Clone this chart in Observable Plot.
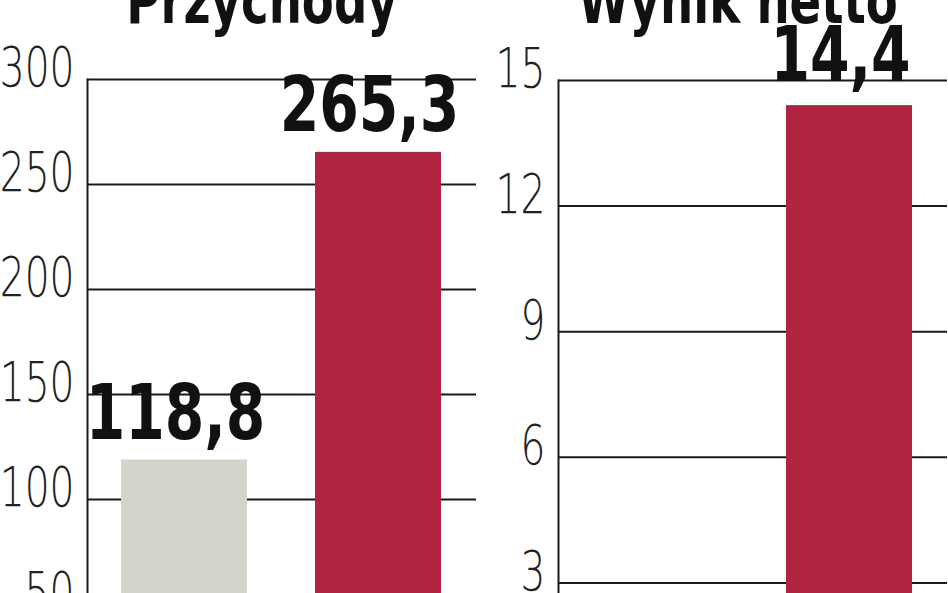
<!DOCTYPE html>
<html><head><meta charset="utf-8">
<script src="https://cdn.jsdelivr.net/npm/d3@7"></script>
<script src="https://cdn.jsdelivr.net/npm/@observablehq/plot@0.6"></script>
<style>
html,body{margin:0;padding:0;background:#fff;overflow:hidden;width:948px;height:593px;}
#wrap{position:relative;width:948px;height:593px;overflow:hidden;}
.panel{position:absolute;top:0;}
.title{position:absolute;font-family:"Liberation Sans Narrow","DejaVu Sans Condensed",sans-serif;font-weight:bold;font-size:64px;line-height:1;color:#111;white-space:nowrap;transform:translateX(-50%) scaleX(0.81);}
</style></head>
<body>
<div id="wrap"></div>
<script>
const categories = ["okres poprzedni", "okres bieżący"];
const colors = ["#d4d4cc", "#b02442"];
const titleRevenue = "Przychody";
const titleNet = "Wynik netto";
const revenue = [118.8, 265.3];
const netResult = [null, 14.4];
const revenueTicks = [0, 50, 100, 150, 200, 250, 300];
const netTicks = [0, 3, 6, 9, 12, 15];

const narrow = '"Liberation Sans Narrow","DejaVu Sans Condensed",sans-serif';
const thin = '"DejaVu Sans",sans-serif';
const fmt = v => d3.format(".1f")(v).replace(".", ",");

function panel(values, ticks, domainMax, marginTop, marginBottom, labelDy) {
  const data = categories.map((c, i) => ({cat: c, value: values[i], color: colors[i]})).filter(d => d.value != null);
  return Plot.plot({
    width: 480,
    height: 740,
    marginLeft: 88,
    marginRight: 3,
    marginTop,
    marginBottom,
    style: {background: "transparent", overflow: "visible"},
    x: {domain: categories, paddingInner: 0.35, paddingOuter: 0.175, axis: null},
    y: {domain: [0, domainMax], axis: null},
    marks: [
      Plot.ruleY(ticks, {stroke: "#1a1a1a", strokeWidth: 2}),
      Plot.barY(data, {x: "cat", y: "value", fill: "color"}),
      Plot.frame({anchor: "left", stroke: "#1a1a1a", strokeWidth: 2}),
      Plot.axisY({ticks, label: null, tickSize: 0, tickPadding: 13, fontSize: 56, fontFamily: thin, fontWeight: 200, fill: "#222", dy: -11, tickFormat: d => String(d)}),
      Plot.text(data, {x: "cat", y: "value", text: d => fmt(d.value), lineAnchor: "bottom", dy: labelDy, dx: -9, fontSize: 77, fontWeight: "bold", fontFamily: narrow, fill: "#111"})
    ]
  });
}

function squeeze(svg, selector, ratio) {
  svg.querySelectorAll(selector).forEach(t => {
    const w = t.getComputedTextLength();
    t.setAttribute("textLength", (w * ratio).toFixed(1));
    t.setAttribute("lengthAdjust", "spacingAndGlyphs");
  });
}

const wrap = document.getElementById("wrap");
const p1 = panel(revenue, revenueTicks, 300, 79, 31, -21);
p1.classList.add("panel"); p1.style.left = "-1px";
const p2 = panel(netResult, netTicks, 15, 80, 32, -25);
p2.classList.add("panel"); p2.style.left = "470px";
wrap.append(p1, p2);
for (const p of [p1, p2]) {
  squeeze(p, 'g[aria-label="y-axis tick label"] text', 0.7);
  squeeze(p, 'g[aria-label="text"] text', 0.82);
}

function addTitle(text, cx) {
  const t = document.createElement("div");
  t.className = "title";
  t.textContent = text;
  t.style.left = cx + "px";
  t.style.top = "-31px";
  wrap.append(t);
}
addTitle(titleRevenue, 262);
addTitle(titleNet, 738);
</script>
</body></html>
